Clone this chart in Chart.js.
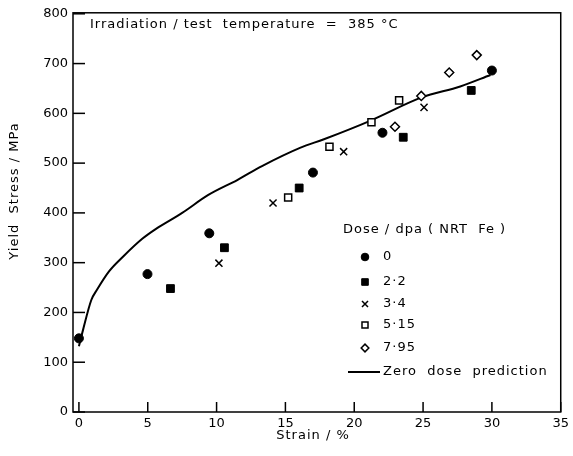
<!DOCTYPE html>
<html>
<head>
<meta charset="utf-8">
<script src="https://cdn.jsdelivr.net/npm/chart.js@4.4.1/dist/chart.umd.min.js"></script>
<style>
  html, body { margin: 0; padding: 0; background: #fff; }
</style>
</head>
<body>
<canvas id="myChart" width="573" height="456"></canvas>
<script>
// values: strain in %, yield stress in MPa
const doseLabels = ["0", "2·2", "3·4", "5·15", "7·95"];
const strainDose0 = [0, 4.98, 9.47, 17.0, 22.05, 30.0];
const stressDose0 = [148, 277, 359, 481, 561, 686];
const strainDose22 = [6.65, 10.57, 16.0, 23.56, 28.5];
const stressDose22 = [248, 330, 450, 552, 646];
const strainDose34 = [10.17, 14.1, 19.23, 25.07];
const stressDose34 = [299, 420, 523, 612];
const strainDose515 = [15.2, 18.2, 21.25, 23.26];
const stressDose515 = [431, 533, 582, 626];
const strainDose795 = [22.96, 24.87, 26.9, 28.9];
const stressDose795 = [573, 635, 682, 717];

// zero dose prediction curve
const predLabel = "Zero  dose  prediction";
const predStrain = [0, 0.3, 0.9, 1.3, 2.2, 3.2, 4.6, 5.6, 7.5, 9.4, 11.5, 13.3, 16.1, 17.8, 21.15, 24.9, 27.7, 29.9];
const predStress = [132, 165, 225, 245, 283, 312, 348, 368, 400, 436, 466, 494, 531, 548, 585, 632, 654, 677];

const xTicks = [0, 5, 10, 15, 20, 25, 30, 35];
const yTicks = [0, 100, 200, 300, 400, 500, 600, 700, 800];

const titleText = "Irradiation / test  temperature  =  385 °C";
const legendTitle = "Dose / dpa ( NRT  Fe )";
const xTitle = "Strain / %";
const yTitle = "Yield  Stress / MPa";

const FONT = "DejaVu Sans";

function pts(xs, ys) {
    return xs.map((x, i) => ({ x: x, y: ys[i] }));
}

const markerSets = [
    { style: 'circle',   radius: 4.5, fill: '#000', bw: 1,   x: strainDose0,   y: stressDose0 },
    { style: 'rect',     radius: 5.5, fill: '#000', bw: 1,   x: strainDose22,  y: stressDose22 },
    { style: 'crossRot', radius: 5,   fill: '#000', bw: 1.5, x: strainDose34,  y: stressDose34 },
    { style: 'rect',     radius: 5,   fill: '#fff', bw: 1.5, x: strainDose515, y: stressDose515 },
    { style: 'rectRot',  radius: 4.5, fill: '#fff', bw: 1.5, x: strainDose795, y: stressDose795 }
];

const datasets = markerSets.map((m, i) => ({
    label: doseLabels[i],
    data: pts(m.x, m.y),
    pointStyle: m.style,
    pointRadius: m.radius,
    pointHoverRadius: m.radius,
    pointBackgroundColor: m.fill,
    pointBorderColor: '#000',
    pointBorderWidth: m.bw,
    showLine: false
}));
datasets.push({
    label: predLabel,
    data: pts(predStrain, predStress),
    showLine: true,
    borderColor: '#000',
    borderWidth: 2,
    pointRadius: 0,
    cubicInterpolationMode: 'monotone',
    fill: false
});

// frame, inward ticks, texts and the in-plot legend
const paperPlugin = {
    id: 'paper',
    afterDraw(chart) {
        const ctx = chart.ctx;
        const a = chart.chartArea;
        const xs = chart.scales.x, ys = chart.scales.y;
        ctx.save();
        ctx.strokeStyle = '#000';
        ctx.fillStyle = '#000';
        ctx.lineWidth = 1.5;
        ctx.strokeRect(a.left, a.top, a.right - a.left, a.bottom - a.top);

        // inward tick marks
        xTicks.forEach(v => {
            const px = xs.getPixelForValue(v);
            ctx.fillRect(px - 0.75, a.bottom - 10, 1.5, 10);
        });
        yTicks.forEach(v => {
            const py = ys.getPixelForValue(v);
            ctx.fillRect(a.left, py - 0.75, 12, 1.5);
        });

        ctx.font = '13px ' + FONT;
        ctx.letterSpacing = '1px';
        ctx.textBaseline = 'middle';
        ctx.textAlign = 'left';
        ctx.fillText(titleText, 90, 25);
        ctx.fillText(legendTitle, 343, 230);

        ctx.textAlign = 'center';
        ctx.fillText(xTitle, 313, 436);
        ctx.save();
        ctx.translate(15, 191);
        ctx.rotate(-Math.PI / 2);
        ctx.fillText(yTitle, 0, 0);
        ctx.restore();

        // legend rows
        const rowY = [257, 282, 304, 325, 348, 372];
        ctx.textAlign = 'left';
        chart.data.datasets.forEach((ds, i) => {
            const y = rowY[i];
            if (ds.showLine) {
                ctx.beginPath();
                ctx.lineWidth = 2;
                ctx.moveTo(348, y);
                ctx.lineTo(380, y);
                ctx.stroke();
            } else {
                ctx.fillStyle = ds.pointBackgroundColor;
                ctx.strokeStyle = ds.pointBorderColor;
                ctx.lineWidth = ds.pointBorderWidth;
                Chart.helpers.drawPoint(ctx, {
                    pointStyle: ds.pointStyle,
                    radius: ds.pointRadius * 0.85,
                    rotation: 0,
                    borderWidth: ds.pointBorderWidth
                }, 365, y);
            }
            ctx.fillStyle = '#000';
            ctx.fillText(ds.label, 383, y);
        });
        ctx.restore();
    }
};

new Chart(document.getElementById('myChart').getContext('2d'), {
    type: 'scatter',
    data: { datasets: datasets },
    options: {
        responsive: false,
        animation: false,
        layout: { padding: { left: 0, right: 8, top: 12, bottom: 0 } },
        plugins: {
            legend: { display: false },
            tooltip: { enabled: false }
        },
        scales: {
            x: {
                type: 'linear',
                min: -0.43,
                max: 35,
                grid: { display: false, drawTicks: false },
                border: { display: false },
                afterBuildTicks: s => { s.ticks = xTicks.map(v => ({ value: v })); },
                afterFit: s => { s.height = 44; },
                ticks: {
                    padding: 4,
                    maxRotation: 0,
                    color: '#000',
                    font: { family: FONT, size: 13 }
                }
            },
            y: {
                type: 'linear',
                min: 0,
                max: 802,
                grid: { display: false, drawTicks: false },
                border: { display: false },
                afterBuildTicks: s => { s.ticks = yTicks.map(v => ({ value: v })); },
                afterFit: s => { s.width = 73; },
                ticks: {
                    padding: 5,
                    color: '#000',
                    font: { family: FONT, size: 13 }
                }
            }
        }
    },
    plugins: [paperPlugin]
});
</script>
</body>
</html>
